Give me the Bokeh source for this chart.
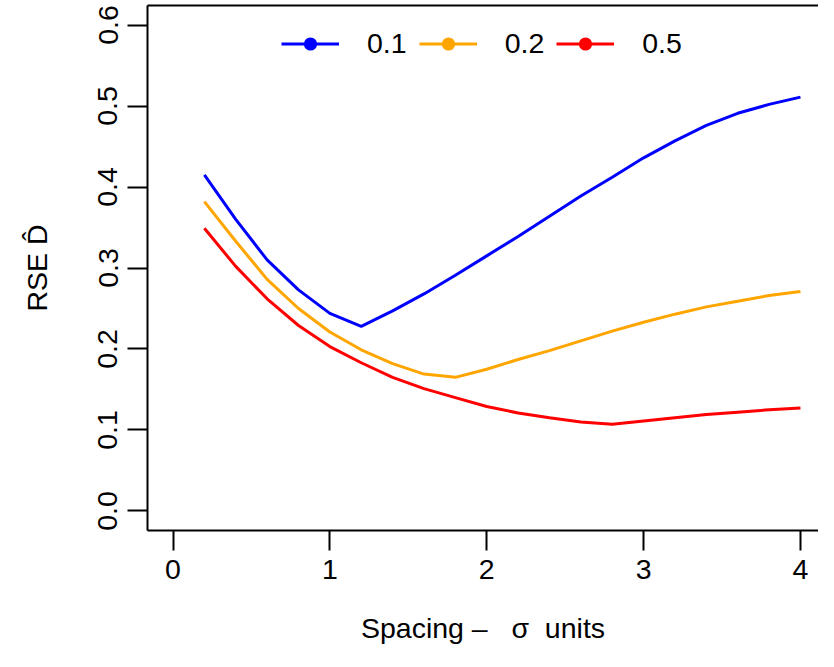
from bokeh.plotting import figure
from bokeh.models import (FixedTicker, NumeralTickFormatter, Legend, LegendItem,
                          ColumnDataSource, LinearAxis, Range1d)
from bokeh.embed import file_html
from bokeh.resources import INLINE

spacing = [0.2, 0.4, 0.6, 0.8, 1.0, 1.2, 1.4, 1.6, 1.8, 2.0,
           2.2, 2.4, 2.6, 2.8, 3.0, 3.2, 3.4, 3.6, 3.8, 4.0]
rse_01 = [0.415, 0.360, 0.310, 0.273, 0.244, 0.228, 0.247, 0.268, 0.291, 0.315,
          0.339, 0.364, 0.389, 0.412, 0.436, 0.457, 0.476, 0.491, 0.502, 0.511]
rse_02 = [0.382, 0.333, 0.286, 0.250, 0.221, 0.199, 0.182, 0.169, 0.165, 0.175,
          0.187, 0.198, 0.210, 0.222, 0.233, 0.243, 0.252, 0.259, 0.266, 0.271]
rse_05 = [0.349, 0.302, 0.262, 0.229, 0.203, 0.183, 0.165, 0.151, 0.140, 0.129,
          0.121, 0.115, 0.110, 0.107, 0.111, 0.115, 0.119, 0.122, 0.125, 0.127]
series_labels = ["0.1", "0.2", "0.5"]
series_colors = ["#0000FF", "#FFA500", "#FF0000"]
x_ticks = [0, 1, 2, 3, 4]
y_ticks = [0.0, 0.1, 0.2, 0.3, 0.4, 0.5, 0.6]

FONT = "Liberation Sans"
FS = "28.5px"

p = figure(width=818, height=651, output_backend="svg", toolbar_location=None,
           x_range=Range1d(-0.1626, 4.115), y_range=Range1d(-0.0241, 0.6241),
           min_border_left=147, min_border_right=0, min_border_top=5,
           min_border_bottom=121)
p.outline_line_color = None
p.grid.visible = False
p.background_fill_color = "white"
p.border_fill_color = "white"

items = []
for vals, lab, col in zip([rse_01, rse_02, rse_05], series_labels, series_colors):
    src = ColumnDataSource(dict(x=spacing, y=vals))
    r = p.line("x", "y", source=src, line_color=col, line_width=3)
    # zero-size markers: invisible on the chart, but give the legend its dot
    dot = p.scatter("x", "y", source=src, marker="circle", size=0,
                    fill_color=col, line_color=None)
    items.append(LegendItem(label=lab, renderers=[r, dot]))

for ax in (p.xaxis[0], p.yaxis[0]):
    ax.axis_line_width = 2
    ax.axis_line_color = "black"
    ax.major_tick_line_width = 2
    ax.major_tick_line_color = "black"
    ax.major_tick_out = 20
    ax.major_tick_in = 0
    ax.minor_tick_line_color = None
    ax.major_label_text_font = FONT
    ax.major_label_text_font_size = FS
    ax.major_label_text_color = "black"
    ax.axis_label_text_font = FONT
    ax.axis_label_text_font_size = FS
    ax.axis_label_text_font_style = "normal"
    ax.axis_label_text_color = "black"

p.xaxis[0].ticker = FixedTicker(ticks=x_ticks)
p.xaxis[0].major_label_standoff = 9
p.xaxis[0].axis_label = "Spacing –\u00a0\u00a0\u00a0σ\u00a0\u00a0units"
p.xaxis[0].axis_label_standoff = 30

p.yaxis[0].ticker = FixedTicker(ticks=y_ticks)
p.yaxis[0].formatter = NumeralTickFormatter(format="0.0")
p.yaxis[0].major_label_orientation = "vertical"
p.yaxis[0].major_label_standoff = 10
p.yaxis[0].axis_label = "RSE D\u0302"
p.yaxis[0].axis_label_standoff = 43

top = LinearAxis(ticker=FixedTicker(ticks=[]), axis_line_width=2,
                 axis_line_color="black", major_tick_line_color=None,
                 minor_tick_line_color=None, major_label_text_font_size="0px")
p.add_layout(top, "above")

legend = Legend(items=items, orientation="horizontal", location=(134, 470),
                label_text_font=FONT, label_text_font_size=FS,
                label_text_color="black",
                glyph_width=58, glyph_height=33, label_standoff=28, spacing=12,
                padding=0, margin=0, border_line_color=None,
                background_fill_alpha=0)
p.add_layout(legend)

open("out.html", "w").write(file_html(p, INLINE))
